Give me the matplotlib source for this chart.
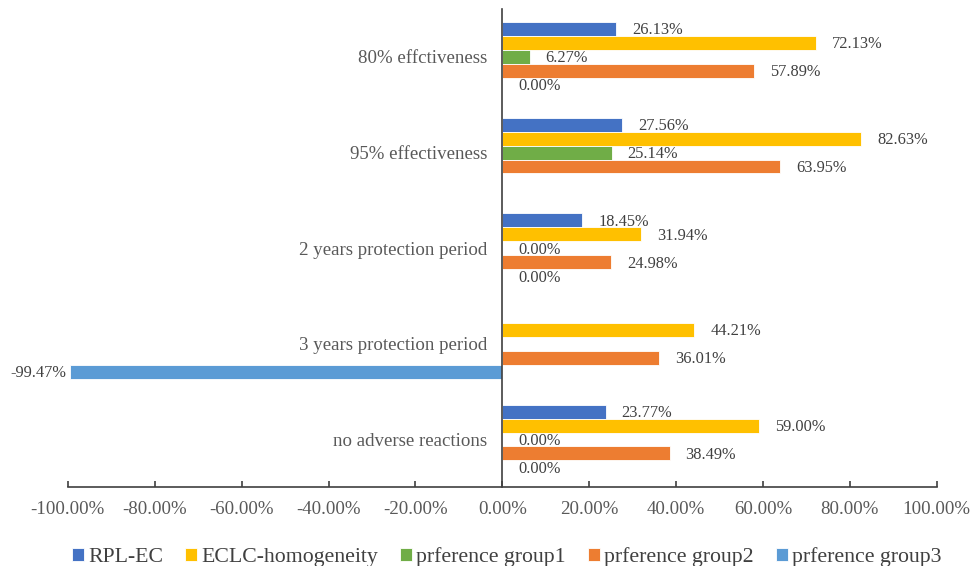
import matplotlib.pyplot as plt
import numpy as np

plt.rcParams["font.family"] = ["Liberation Serif", "DejaVu Serif"]

# categories, bottom to top
categories = ["no adverse reactions", "3 years protection period",
              "2 years protection period", "95% effectiveness", "80% effctiveness"]
series_names = ["RPL-EC", "ECLC-homogeneity", "prference group1",
                "prference group2", "prference group3"]
rpl_ec = [23.77, np.nan, 18.45, 27.56, 26.13]
eclc = [59.00, 44.21, 31.94, 82.63, 72.13]
group1 = [0.00, np.nan, 0.00, 25.14, 6.27]
group2 = [38.49, 36.01, 24.98, 63.95, 57.89]
group3 = [0.00, -99.47, 0.00, np.nan, 0.00]
colors = ["#4472C4", "#FFC000", "#70AD47", "#ED7D31", "#5B9BD5"]

fig = plt.figure(figsize=(9.71, 5.66), dpi=100)
ax = fig.add_axes([0.0699, 0.139, 0.8948, 0.845])

y = np.arange(len(categories))
h = 0.146
data = [rpl_ec, eclc, group1, group2, group3]
for i, (vals, name, c) in enumerate(zip(data, series_names, colors)):
    pos = y + (2 - i) * h
    ax.barh(pos, vals, height=h, color=c, edgecolor="white", linewidth=0.6, label=name)
    for p, v in zip(pos, vals):
        if np.isnan(v):
            continue
        if v < 0:
            ax.annotate(f"{v:.2f}%", (v, p), xytext=(-3, -1), textcoords="offset points",
                        ha="right", va="center", fontsize=11.8, color="#404040")
        else:
            ax.annotate(f"{v:.2f}%", (v, p), xytext=(11.5, -1), textcoords="offset points",
                        ha="left", va="center", fontsize=11.8, color="#404040")

ax.spines["left"].set_position(("data", 0))
ax.spines["top"].set_visible(False)
ax.spines["right"].set_visible(False)
ax.spines["left"].set_color("#404040")
ax.spines["bottom"].set_color("#404040")
ax.spines["left"].set_linewidth(1.2)
ax.spines["bottom"].set_linewidth(1.2)

ax.set_xlim(-100, 100)
ax.set_ylim(-0.5, 4.5)
ticks = np.arange(-100, 101, 20)
ax.set_xticks(ticks)
ax.set_xticklabels([f"{t:.2f}%" for t in ticks], fontsize=13.6, color="#595959")
ax.set_yticks(y)
ax.set_yticklabels(categories, fontsize=13.6, color="#595959")
ax.tick_params(axis="y", length=0, pad=11)
ax.tick_params(axis="x", direction="in", length=4, width=1.2, color="#404040", pad=10)

ax.legend(loc="center", bbox_to_anchor=(0.505, -0.146), ncol=5, frameon=False,
          fontsize=15.7, handlelength=0.55, handleheight=0.55, handletextpad=0.2,
          columnspacing=1.0, labelcolor="#404040")

fig.savefig("out.png", dpi=100)
